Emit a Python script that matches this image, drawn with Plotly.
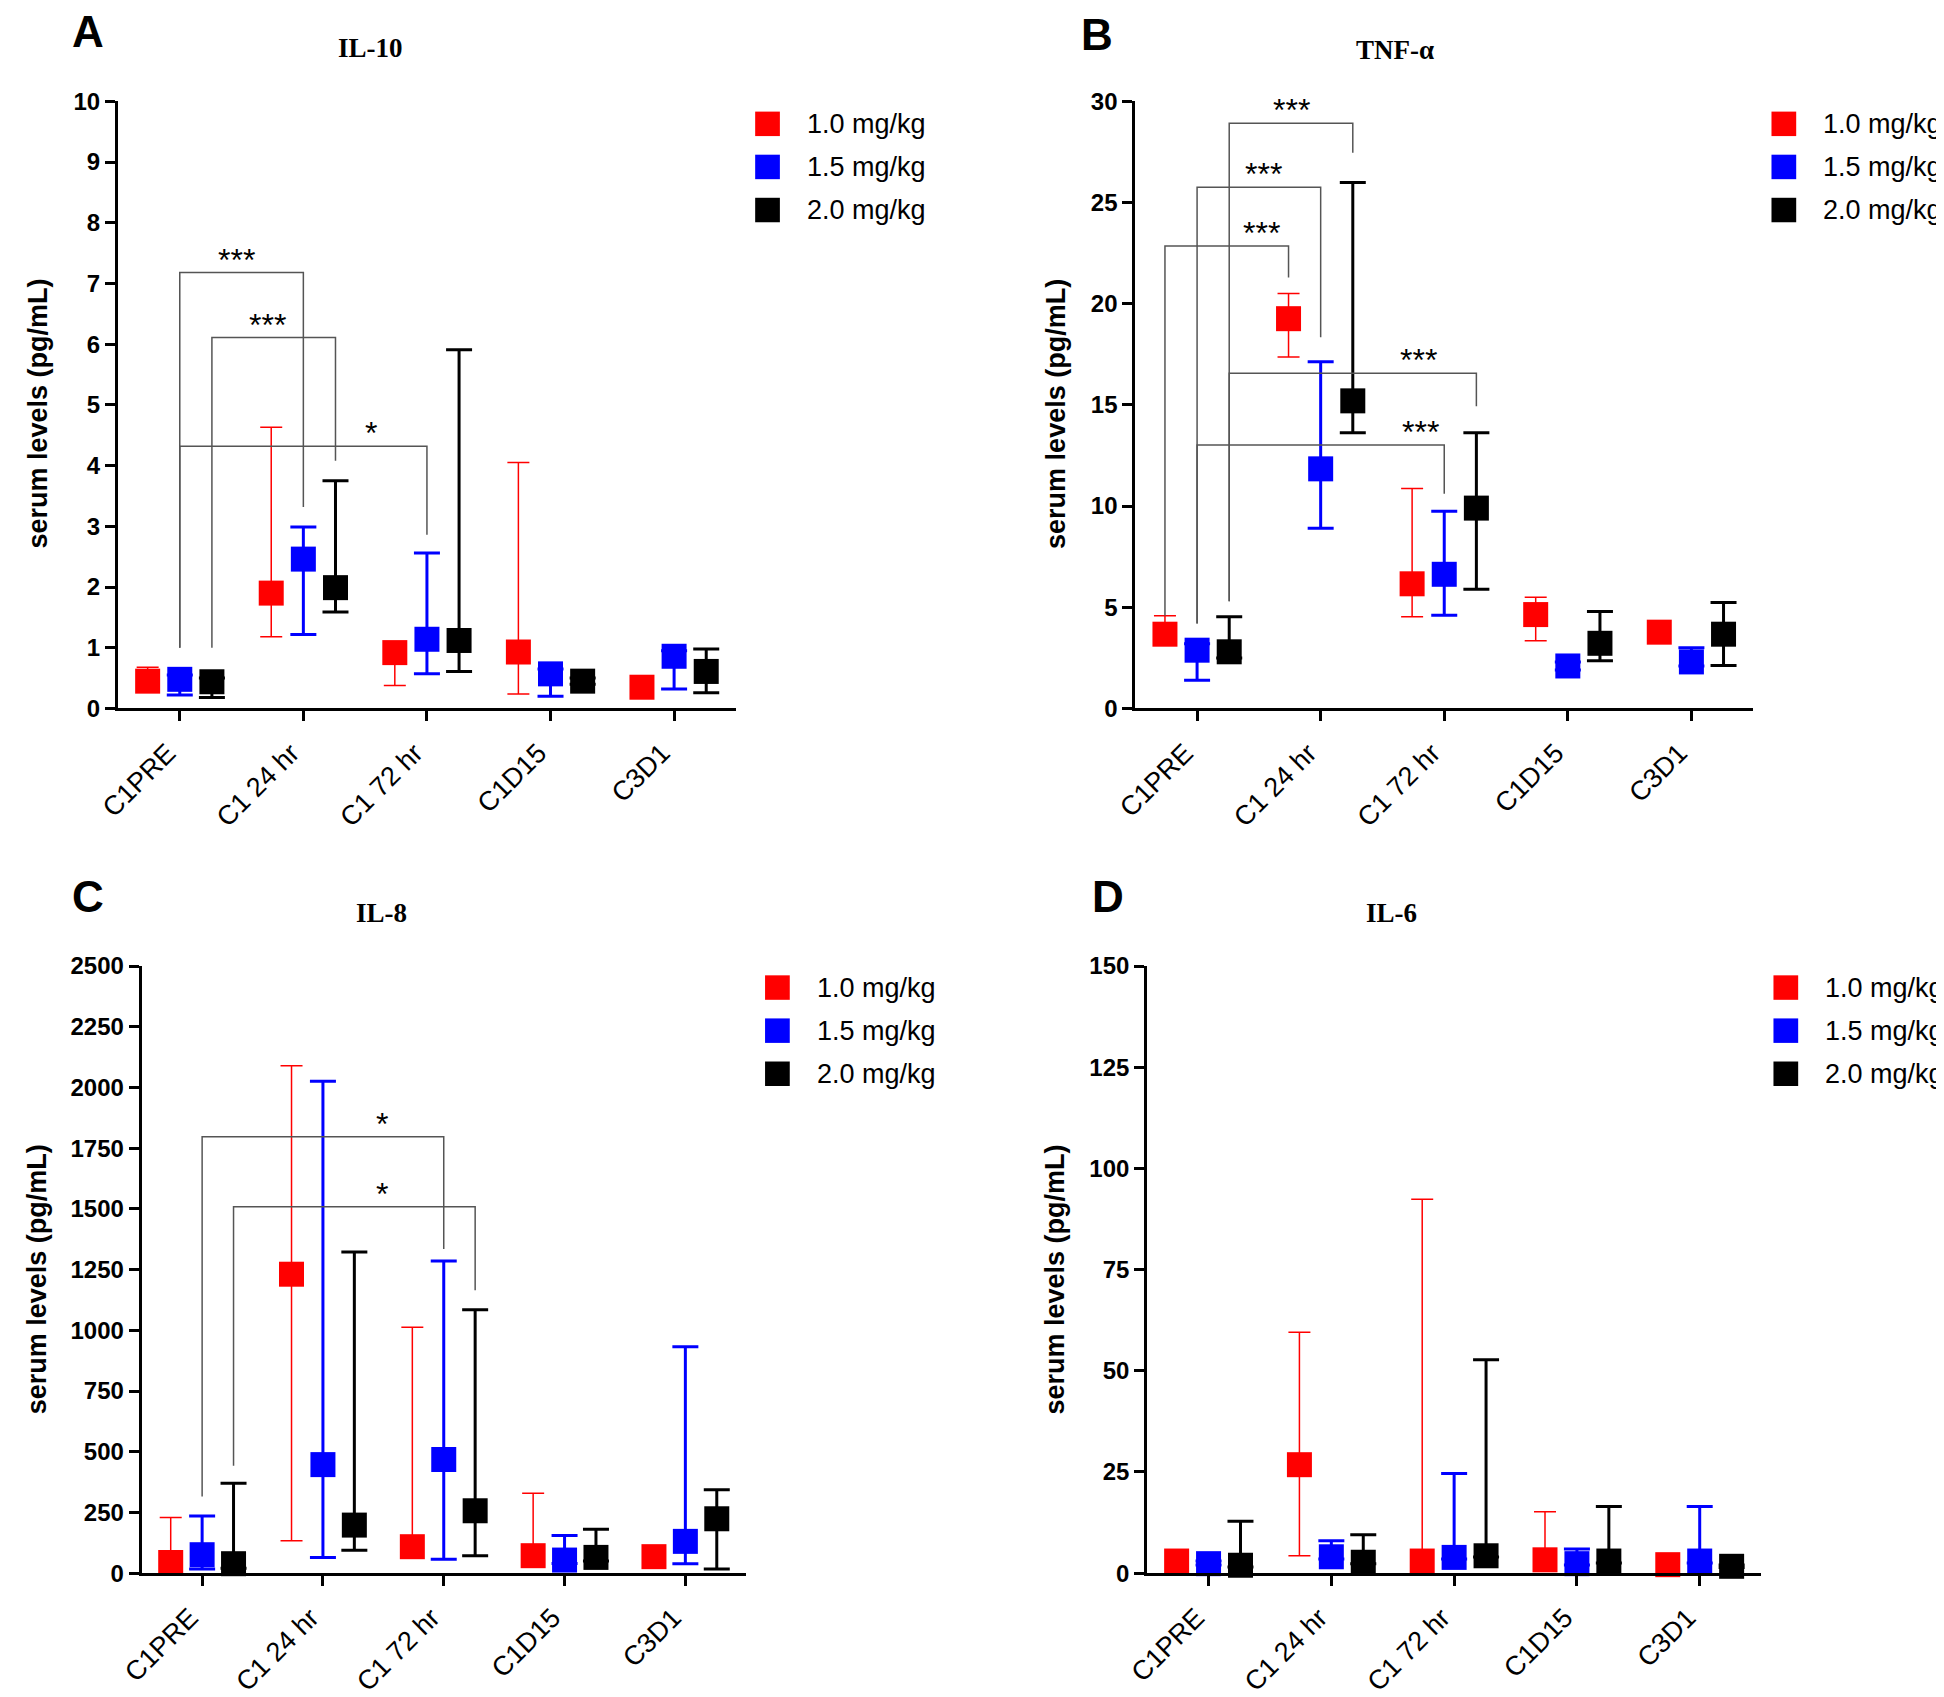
import plotly.graph_objects as go

# the page body has an 8px margin, so the figure is drawn 8px in from the corner
PAD = 8
W, H = 1944 - PAD, 1697 - PAD

categories = ["C1PRE", "C1 24 hr", "C1 72 hr", "C1D15", "C3D1"]
doses = ["1.0 mg/kg", "1.5 mg/kg", "2.0 mg/kg"]
dose_colors = ["#FF0000", "#0000FF", "#000000"]
dose_offsets = [-0.26, 0.0, 0.26]

# IL-10 (pg/mL): centre value, upper and lower whisker end
il10_10 = [0.45, 1.90, 0.92, 0.93, 0.35]
il10_10_hi = [0.68, 4.63, 1.00, 4.05, 0.40]
il10_10_lo = [0.30, 1.18, 0.38, 0.24, 0.30]
il10_15 = [0.48, 2.46, 1.14, 0.57, 0.86]
il10_15_hi = [0.55, 2.99, 2.56, 0.65, 0.95]
il10_15_lo = [0.22, 1.22, 0.57, 0.20, 0.32]
il10_20 = [0.44, 1.99, 1.12, 0.45, 0.61]
il10_20_hi = [0.50, 3.75, 5.91, 0.50, 0.98]
il10_20_lo = [0.18, 1.59, 0.61, 0.40, 0.26]

# TNF-alpha
tnf_10 = [3.67, 19.26, 6.16, 4.64, 3.77]
tnf_10_hi = [4.58, 20.51, 10.87, 5.50, 3.90]
tnf_10_lo = [3.30, 17.37, 4.53, 3.35, 3.60]
tnf_15 = [2.88, 11.84, 6.63, 2.10, 2.30]
tnf_15_hi = [3.20, 17.13, 9.75, 2.30, 3.00]
tnf_15_lo = [1.39, 8.91, 4.61, 1.90, 2.10]
tnf_20 = [2.80, 15.20, 9.90, 3.22, 3.67]
tnf_20_hi = [4.53, 25.99, 13.62, 4.79, 5.24]
tnf_20_lo = [2.50, 13.62, 5.89, 2.36, 2.12]

# IL-8
il8_10 = [44, 1231, 109, 72, 68]
il8_10_hi = [229, 2089, 1013, 329, 80]
il8_10_lo = [30, 133, 90, 60, 55]
il8_15 = [76, 447, 468, 54, 131]
il8_15_hi = [235, 2026, 1285, 155, 932]
il8_15_lo = [17, 65, 57, 40, 39]
il8_20 = [39, 198, 257, 65, 224]
il8_20_hi = [370, 1322, 1085, 181, 344]
il8_20_lo = [20, 94, 72, 50, 17]

# IL-6
il6_10 = [3.0, 26.8, 3.0, 3.3, 2.1]
il6_10_hi = [3.5, 59.5, 92.4, 15.2, 2.5]
il6_10_lo = [2.5, 4.3, 2.5, 3.0, 1.8]
il6_15 = [2.35, 4.05, 3.9, 2.35, 3.0]
il6_15_hi = [3.0, 8.0, 24.6, 6.0, 16.5]
il6_15_lo = [2.0, 3.5, 3.5, 2.0, 2.5]
il6_20 = [1.96, 2.7, 4.3, 3.0, 1.7]
il6_20_hi = [12.8, 9.5, 52.7, 16.5, 2.0]
il6_20_lo = [1.5, 2.3, 4.0, 2.5, 1.4]

# significance brackets: (left x, left bottom, top, right x, right bottom, label, label x)
il10_brackets = [
    (0.0, 1.0, 7.18, 1.0, 3.32, "***", 0.46),
    (0.26, 1.0, 6.11, 1.26, 4.08, "***", 0.71),
    (0.0, 1.0, 4.32, 2.0, 2.86, "*", 1.55),
]
tnf_brackets = [
    (-0.26, 4.58, 22.85, 0.74, 21.3, "***", 0.52),
    (0.0, 4.2, 25.75, 1.0, 18.34, "***", 0.535),
    (0.26, 5.3, 28.92, 1.26, 27.46, "***", 0.76),
    (0.26, 5.3, 16.56, 2.26, 14.93, "***", 1.79),
    (0.0, 4.2, 13.02, 2.0, 10.61, "***", 1.81),
]
il8_brackets = [
    (0.0, 316, 1797, 2.0, 1335, "*", 1.49),
    (0.26, 442, 1509, 2.26, 1165, "*", 1.49),
]

panels = [
    dict(letter="A", title="IL-10", ymax=10, dtick=1,
         series=[(il10_10, il10_10_hi, il10_10_lo), (il10_15, il10_15_hi, il10_15_lo),
                 (il10_20, il10_20_hi, il10_20_lo)],
         brackets=il10_brackets,
         box=(97, 722, 89, 709), letter_xy=(67, 18), title_xy=(352, 35),
         ytitle_xy=(16, 408), legend_xy=(754, 112)),
    dict(letter="B", title="TNF-α", ymax=30, dtick=5,
         series=[(tnf_10, tnf_10_hi, tnf_10_lo), (tnf_15, tnf_15_hi, tnf_15_lo),
                 (tnf_20, tnf_20_hi, tnf_20_lo)],
         brackets=tnf_brackets,
         box=(1126, 1751, 89, 709), letter_xy=(1087, 21), title_xy=(1389, 37),
         ytitle_xy=(1045, 408), legend_xy=(1782, 112)),
    dict(letter="C", title="IL-8", ymax=2500, dtick=250,
         series=[(il8_10, il8_10_hi, il8_10_lo), (il8_15, il8_15_hi, il8_15_lo),
                 (il8_20, il8_20_hi, il8_20_lo)],
         brackets=il8_brackets,
         box=(121, 732, 972, 1592), letter_xy=(67, 901), title_xy=(364, 918),
         ytitle_xy=(15, 1292), legend_xy=(764, 994)),
    dict(letter="D", title="IL-6", ymax=150, dtick=25,
         series=[(il6_10, il6_10_hi, il6_10_lo), (il6_15, il6_15_hi, il6_15_lo),
                 (il6_20, il6_20_hi, il6_20_lo)],
         brackets=[],
         box=(1138, 1759, 972, 1592), letter_xy=(1098, 901), title_xy=(1385, 918),
         ytitle_xy=(1045, 1292), legend_xy=(1784, 994)),
]

def px(x):
    return (x - PAD) / W

def py(y):
    return 1 - (y - PAD) / H

fig = go.Figure()
layout = dict(width=W, height=H, margin=dict(l=0, r=0, t=0, b=0),
              paper_bgcolor="white", plot_bgcolor="white", showlegend=False)
shapes = []
annotations = []
sans = "Liberation Sans, Arial"
serif = "Liberation Serif, Times New Roman"

def note(x, y, text, font, **kw):
    a = dict(x=px(x), y=py(y), xref="paper", yref="paper", text=text, showarrow=False,
             xanchor="center", yanchor="middle", font=font)
    a.update(kw)
    annotations.append(a)

for i, p in enumerate(panels):
    n = "" if i == 0 else str(i + 1)
    xr, yr = "x" + n, "y" + n
    x0, x1, y0, y1 = p["box"]
    layout["xaxis" + n] = dict(
        domain=[px(x0), px(x1)], range=[-0.5, 4.5], anchor=yr,
        tickvals=list(range(len(categories))), ticktext=categories, tickangle=-45,
        ticklabelshift=-12, ticklabelstandoff=5,
        ticks="outside", ticklen=10, tickwidth=3, tickcolor="black",
        showline=True, linewidth=3, linecolor="black", showgrid=False, zeroline=False,
        tickfont=dict(family=sans, size=27, color="black"))
    layout["yaxis" + n] = dict(
        domain=[py(y1), py(y0)], range=[0, p["ymax"]], anchor=xr, dtick=p["dtick"],
        ticks="outside", ticklen=10, tickwidth=3, tickcolor="black",
        showline=True, linewidth=3, linecolor="black", showgrid=False, zeroline=False,
        tickfont=dict(family=sans, size=24, color="black", weight="bold"))

    for k, (vals, hi, lo) in enumerate(p["series"]):
        thin = k == 0
        fig.add_trace(go.Scatter(
            x=[j + dose_offsets[k] for j in range(len(categories))], y=vals,
            mode="markers", name=doses[k], xaxis=xr, yaxis=yr, cliponaxis=False,
            marker=dict(symbol="square", size=25, color=dose_colors[k], line=dict(width=0)),
            error_y=dict(type="data", symmetric=False,
                         array=[h - v for h, v in zip(hi, vals)],
                         arrayminus=[v - l for v, l in zip(vals, lo)],
                         color=dose_colors[k], thickness=1.5 if thin else 3,
                         width=11 if thin else 13)))

    for (xl, yl, yt, xrr, yrb, lab, lx) in p["brackets"]:
        shapes.append(dict(type="path", xref=xr, yref=yr,
                           path=f"M {xl},{yl} L {xl},{yt} L {xrr},{yt} L {xrr},{yrb}",
                           line=dict(color="#555555", width=1.5)))
        annotations.append(dict(x=lx, y=yt, xref=xr, yref=yr, text=lab, showarrow=False,
                                xanchor="center", yanchor="bottom", yshift=-7,
                                font=dict(family=sans, size=32, color="black")))

    note(*p["letter_xy"], p["letter"], dict(family=sans, size=44, color="black", weight="bold"))
    note(*p["title_xy"], p["title"], dict(family=serif, size=27, color="black", weight="bold"))
    note(*p["ytitle_xy"], "serum levels (pg/mL)",
         dict(family=sans, size=27, color="black", weight="bold"), textangle=-90)
    gx, gy = p["legend_xy"]
    for k in range(len(doses)):
        cy = gy + 44 * k
        shapes.append(dict(type="rect", xref="paper", yref="paper",
                           x0=px(gx - 12.5), x1=px(gx + 12.5), y0=py(cy + 12.5), y1=py(cy - 12.5),
                           fillcolor=dose_colors[k], line=dict(width=0)))
        note(gx + 38, cy, doses[k], dict(family=sans, size=27, color="black"), xanchor="left")

layout["shapes"] = shapes
layout["annotations"] = annotations
fig.update_layout(**layout)
fig.write_html("out.html")
